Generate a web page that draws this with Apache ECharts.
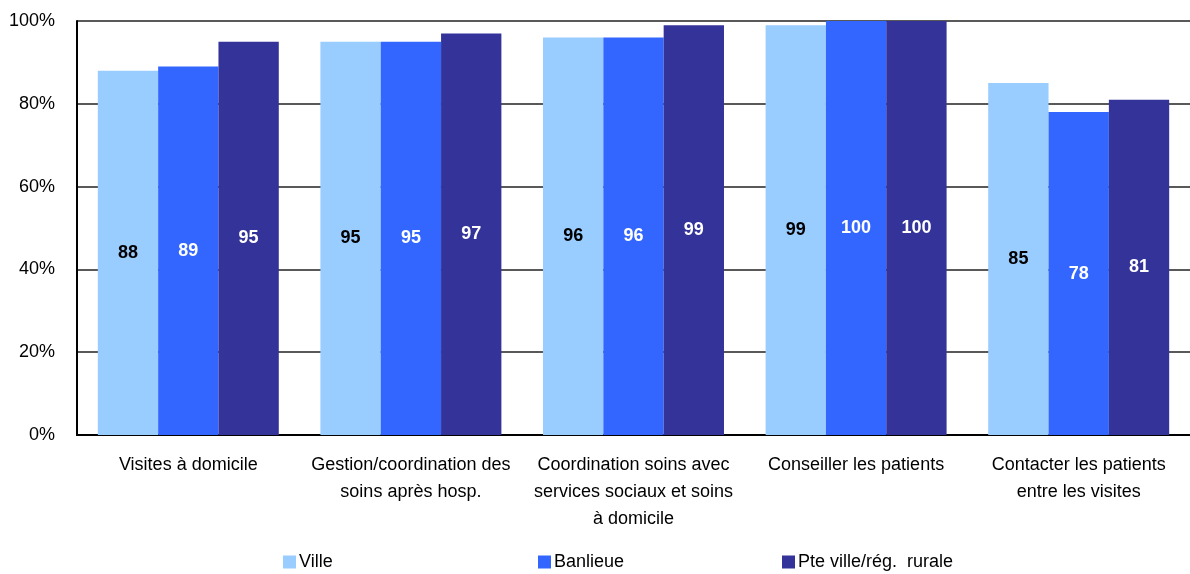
<!DOCTYPE html>
<html><head><meta charset="utf-8">
<script src="https://cdn.jsdelivr.net/npm/echarts@6/dist/echarts.min.js"></script>
<style>html,body{margin:0;padding:0;background:#fff}#c{width:1190px;height:574px}</style>
</head><body><div id="c"></div>
<script>
const categories = ["Visites à domicile", "Gestion/coordination des\nsoins après hosp.", "Coordination soins avec\nservices sociaux et soins\nà domicile", "Conseiller les patients", "Contacter les patients\nentre les visites"];
const ville = [88, 95, 96, 99, 85];
const banlieue = [89, 95, 96, 100, 78];
const rurale = [95, 97, 99, 100, 81];
const yTicks = [0, 20, 40, 60, 80, 100];
const seriesNames = ["Ville", "Banlieue", "Pte ville/rég.  rurale"];
const colors = ["#99CCFF", "#3366FF", "#333399"];
const labelColors = ["#000", "#fff", "#fff"];
const font = "'Liberation Sans Narrow', 'Arial Narrow', 'Liberation Sans', Arial, sans-serif";

const chart = echarts.init(document.getElementById('c'));
const data = [ville, banlieue, rurale];
const legendX = [283, 538, 782];
chart.setOption({
  animation: false,
  grid: {left: 77, right: 0, top: 21, bottom: 139, containLabel: false},
  legend: seriesNames.map((n, i) => ({
    data: [n], left: legendX[i], top: 553, padding: 0, itemWidth: 13, itemHeight: 13, itemGap: 4,
    icon: 'rect', textStyle: {fontFamily: font, fontSize: 18, color: '#000', padding: [0,0,0,-2]}
  })),
  xAxis: {
    type: 'category', data: categories,
    axisLine: {lineStyle: {color: '#000', width: 2}},
    axisTick: {show: false},
    axisLabel: {fontFamily: font, fontSize: 18, color: '#000', lineHeight: 27, margin: 17, interval: 0}
  },
  yAxis: {
    type: 'value', min: 0, max: 100, interval: 20,
    axisLine: {show: true, lineStyle: {color: '#000', width: 2}},
    axisTick: {show: false},
    splitLine: {lineStyle: {color: '#222', width: 1.5}},
    axisLabel: {formatter: v => yTicks.includes(v) ? v + '%' : '', fontFamily: "'Liberation Sans', Arial, sans-serif", fontSize: 18, color: '#000', margin: 22}
  },
  series: seriesNames.map((n, i) => ({
    name: n, type: 'bar', data: data[i],
    barGap: '0%', barCategoryGap: '18.7%',
    itemStyle: {color: colors[i]},
    label: {show: true, position: 'inside', color: labelColors[i], fontFamily: "'Liberation Sans', Arial, sans-serif", fontWeight: 'bold', fontSize: 18}
  }))
});
</script></body></html>
